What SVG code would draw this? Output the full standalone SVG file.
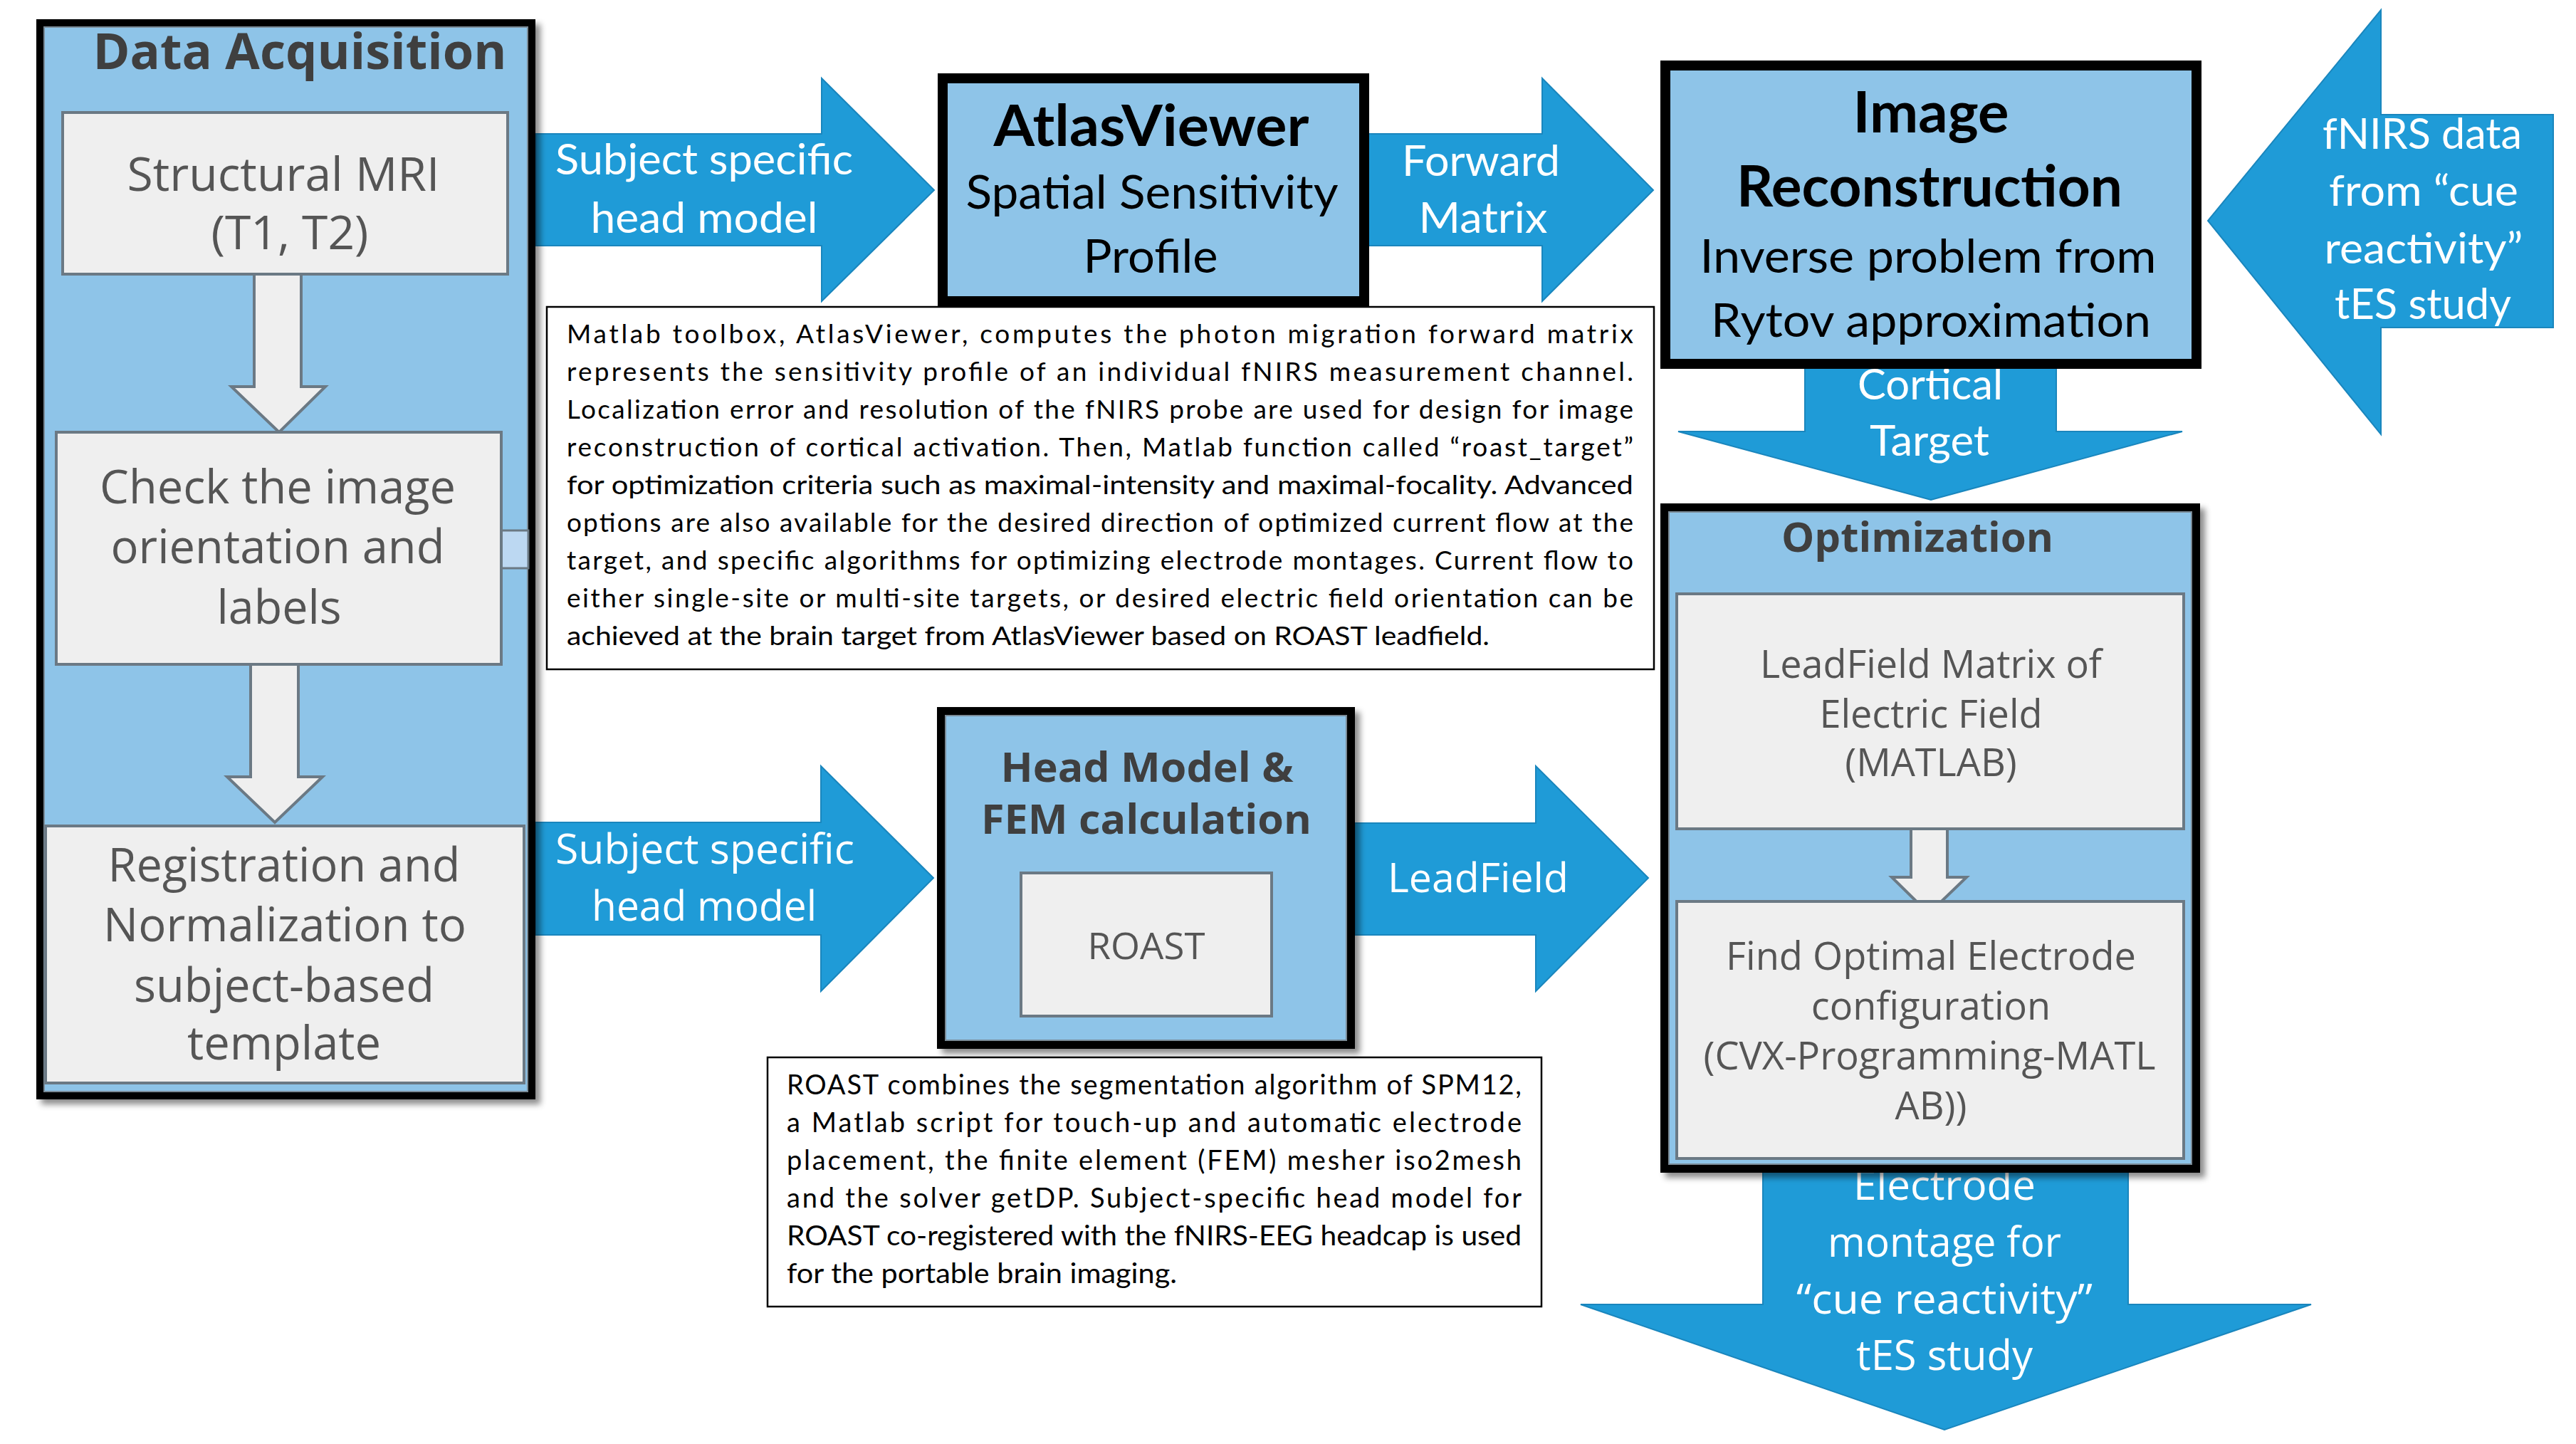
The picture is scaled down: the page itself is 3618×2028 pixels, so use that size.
<svg xmlns="http://www.w3.org/2000/svg" width="3618" height="2028" viewBox="0 0 3618 2028">
<defs>
<filter id="sh" x="-5%" y="-5%" width="115%" height="115%">
<feDropShadow dx="7" dy="7" stdDeviation="4" flood-color="#000" flood-opacity="0.45"/>
</filter>
<style>
.arrow{fill:#1F9BD7;stroke:#1A86BD;stroke-width:2}
.warrow{fill:#EFEFEF;stroke:#6B7984;stroke-width:4}
.frame{fill:#8EC4E8;stroke:#000}
.gbox{fill:#EFEFEF;stroke:#6B7984;stroke-width:4}
.note{fill:#fff;stroke:#000;stroke-width:2.5}
.cal{font-family:Lato,"Liberation Sans",sans-serif}
.os{font-family:"Open Sans","Noto Sans",sans-serif}
.wt{fill:#fff}
.bk{fill:#000}
.ttl{fill:#3F3F3F;font-weight:bold}
.gt{fill:#555}
.c{text-anchor:middle}
</style>
</defs>
<rect width="3618" height="2028" fill="#fff"/>

<g id="connectors">
<polygon class="arrow" points="753,188 1154,188 1154,110 1312,267 1154,423 1154,345 753,345"/>
<polygon class="arrow" points="1916,188 2166,188 2166,110 2322,267 2166,423 2166,345 1916,345"/>
<polygon class="arrow" points="3586,161 3344,161 3344,14 3101,310 3344,610 3344,460 3586,460"/>
<polygon class="arrow" points="2535,505 2888,505 2888,606 3065,606 2712,702 2357,606 2535,606"/>
<polygon class="arrow" points="752,1155 1153,1155 1153,1076 1311,1233 1153,1392 1153,1313 752,1313"/>
<polygon class="arrow" points="1903,1156 2157,1156 2157,1076 2315,1233 2157,1392 2157,1313 1903,1313"/>
<polygon class="arrow" points="2476,1640 2989,1640 2989,1832 3246,1832 2731,2008 2220,1832 2476,1832"/>
<g class="cal wt c" font-size="60">
<text x="989" y="245" textLength="418" lengthAdjust="spacingAndGlyphs">Subject specific</text>
<text x="989" y="327" textLength="319" lengthAdjust="spacingAndGlyphs">head model</text>
<text x="2080" y="247" textLength="222" lengthAdjust="spacingAndGlyphs">Forward</text>
<text x="2083" y="327" textLength="181" lengthAdjust="spacingAndGlyphs">Matrix</text>
<text x="3402" y="209" textLength="280" lengthAdjust="spacingAndGlyphs">fNIRS data</text>
<text x="3404" y="289" textLength="266" lengthAdjust="spacingAndGlyphs">from “cue</text>
<text x="3404" y="370" textLength="279" lengthAdjust="spacingAndGlyphs">reactivity”</text>
<text x="3403" y="448" textLength="248" lengthAdjust="spacingAndGlyphs">tES study</text>
<text x="2711" y="561" textLength="204" lengthAdjust="spacingAndGlyphs">Cortical</text>
<text x="2710" y="640" textLength="168" lengthAdjust="spacingAndGlyphs">Target</text>
</g>
<g class="os wt c" font-size="58">
<text x="990" y="1213" textLength="420" lengthAdjust="spacingAndGlyphs">Subject specific</text>
<text x="989" y="1293" textLength="316" lengthAdjust="spacingAndGlyphs">head model</text>
<text x="2076" y="1253" font-size="56" textLength="254" lengthAdjust="spacingAndGlyphs">LeadField</text>
<text x="2731" y="1685" textLength="256" lengthAdjust="spacingAndGlyphs">Electrode</text>
<text x="2731" y="1765" textLength="328" lengthAdjust="spacingAndGlyphs">montage for</text>
<text x="2731" y="1845" textLength="416" lengthAdjust="spacingAndGlyphs">“cue reactivity”</text>
<text x="2731" y="1924" textLength="248" lengthAdjust="spacingAndGlyphs">tES study</text>
</g>
</g>

<g id="data-acquisition">
<rect class="frame" x="56.5" y="32.5" width="690" height="1506" stroke-width="11" filter="url(#sh)"/>
<rect x="62" y="38" width="679" height="1495" fill="none" stroke="#7A8A96" stroke-width="2"/>
<text class="os ttl c" x="421" y="97" font-size="70" textLength="581" lengthAdjust="spacingAndGlyphs">Data Acquisition</text>
<rect x="704" y="745" width="38" height="53" fill="#BCD8F2" stroke="#6B7984" stroke-width="3"/>
<g id="structural-mri">
<rect class="gbox" x="88" y="158" width="625" height="227"/>
<g class="os gt c" font-size="65">
<text x="398" y="268" textLength="439" lengthAdjust="spacingAndGlyphs">Structural MRI</text>
<text x="407" y="350" textLength="221" lengthAdjust="spacingAndGlyphs">(T1, T2)</text>
</g>
</g>
<polygon class="warrow" points="357,385 423,385 423,543 457,543 392,607 325,543 357,543"/>
<g id="check-orientation">
<rect class="gbox" x="79" y="607" width="625" height="326"/>
<g class="os gt c" font-size="65">
<text x="390" y="707" textLength="500" lengthAdjust="spacingAndGlyphs">Check the image</text>
<text x="390" y="791" textLength="469" lengthAdjust="spacingAndGlyphs">orientation and</text>
<text x="392" y="876" textLength="175" lengthAdjust="spacingAndGlyphs">labels</text>
</g>
</g>
<polygon class="warrow" points="352,933 419,933 419,1091 453,1091 386,1155 319,1091 352,1091"/>
<g id="registration">
<rect class="gbox" x="64" y="1160" width="672" height="361"/>
<g class="os gt c" font-size="65">
<text x="399" y="1238" textLength="495" lengthAdjust="spacingAndGlyphs">Registration and</text>
<text x="400" y="1322" textLength="510" lengthAdjust="spacingAndGlyphs">Normalization to</text>
<text x="399" y="1407" textLength="422" lengthAdjust="spacingAndGlyphs">subject-based</text>
<text x="399" y="1488" textLength="272" lengthAdjust="spacingAndGlyphs">template</text>
</g>
</g>
</g>

<g id="atlasviewer">
<rect class="frame" x="1324" y="110" width="592" height="313" stroke-width="14"/>
<g class="cal bk c">
<text x="1617" y="205" font-size="80" font-weight="bold" textLength="443" lengthAdjust="spacingAndGlyphs">AtlasViewer</text>
<text x="1618" y="293" font-size="66" textLength="523" lengthAdjust="spacingAndGlyphs">Spatial Sensitivity</text>
<text x="1616" y="383" font-size="66" textLength="189" lengthAdjust="spacingAndGlyphs">Profile</text>
</g>
</g>

<g id="atlasviewer-note">
<rect class="note" x="768" y="431" width="1555" height="509"/>
<g class="cal bk" font-size="37">
<text x="796" y="482" textLength="1498" lengthAdjust="spacing">Matlab toolbox, AtlasViewer, computes the photon migration forward matrix</text>
<text x="796" y="535" textLength="1498" lengthAdjust="spacing">represents the sensitivity profile of an individual fNIRS measurement channel.</text>
<text x="796" y="588" textLength="1498" lengthAdjust="spacing">Localization error and resolution of the fNIRS probe are used for design for image</text>
<text x="796" y="641" textLength="1498" lengthAdjust="spacing">reconstruction of cortical activation. Then, Matlab function called “roast_target”</text>
<text x="796" y="694" textLength="1498" lengthAdjust="spacingAndGlyphs">for optimization criteria such as maximal-intensity and maximal-focality. Advanced</text>
<text x="796" y="747" textLength="1498" lengthAdjust="spacing">options are also available for the desired direction of optimized current flow at the</text>
<text x="796" y="800" textLength="1498" lengthAdjust="spacing">target, and specific algorithms for optimizing electrode montages. Current flow to</text>
<text x="796" y="853" textLength="1498" lengthAdjust="spacing">either single-site or multi-site targets, or desired electric field orientation can be</text>
<text x="796" y="906" textLength="1296" lengthAdjust="spacingAndGlyphs">achieved at the brain target from  AtlasViewer based on ROAST leadfield.</text>
</g>
</g>

<g id="image-reconstruction">
<rect class="frame" x="2339" y="92" width="746" height="419" stroke-width="14"/>
<g class="cal bk c">
<text x="2712" y="186" font-size="80" font-weight="bold" textLength="219" lengthAdjust="spacingAndGlyphs">Image</text>
<text x="2710" y="290" font-size="80" font-weight="bold" textLength="542" lengthAdjust="spacingAndGlyphs">Reconstruction</text>
<text x="2708" y="383" font-size="66" textLength="641" lengthAdjust="spacingAndGlyphs">Inverse problem from</text>
<text x="2712" y="473" font-size="66" textLength="618" lengthAdjust="spacingAndGlyphs">Rytov approximation</text>
</g>
</g>

<g id="head-model">
<rect class="frame" x="1322" y="999" width="575" height="468" stroke-width="12" filter="url(#sh)"/>
<rect x="1328" y="1005" width="563" height="456" fill="none" stroke="#7A8A96" stroke-width="2"/>
<g class="os ttl c" font-size="58">
<text x="1611" y="1098" textLength="411" lengthAdjust="spacingAndGlyphs">Head Model &amp;</text>
<text x="1610" y="1171" textLength="464" lengthAdjust="spacingAndGlyphs">FEM calculation</text>
</g>
<g id="roast">
<rect class="gbox" x="1434" y="1226" width="352" height="201"/>
<text class="os gt c" x="1610" y="1347" font-size="52" textLength="165" lengthAdjust="spacingAndGlyphs">ROAST</text>
</g>
</g>

<g id="roast-note">
<rect class="note" x="1078" y="1485" width="1087" height="350"/>
<g class="cal bk" font-size="38">
<text x="1105" y="1537" textLength="1032" lengthAdjust="spacing">ROAST combines the segmentation algorithm of SPM12,</text>
<text x="1105" y="1590" textLength="1032" lengthAdjust="spacing">a Matlab script for touch-up and automatic electrode</text>
<text x="1105" y="1643" textLength="1032" lengthAdjust="spacing">placement, the finite element (FEM) mesher iso2mesh</text>
<text x="1105" y="1696" textLength="1032" lengthAdjust="spacing">and the solver getDP. Subject-specific head model for</text>
<text x="1105" y="1749" textLength="1032" lengthAdjust="spacingAndGlyphs">ROAST co-registered with the fNIRS-EEG headcap is used</text>
<text x="1105" y="1802" textLength="548" lengthAdjust="spacingAndGlyphs">for the portable brain imaging.</text>
</g>
</g>

<g id="optimization">
<rect class="frame" x="2338" y="713" width="746" height="928" stroke-width="12" filter="url(#sh)"/>
<rect x="2344" y="719" width="734" height="916" fill="none" stroke="#7A8A96" stroke-width="2"/>
<text class="os ttl c" x="2693" y="775" font-size="58" textLength="382" lengthAdjust="spacingAndGlyphs">Optimization</text>
<g id="leadfield-matrix">
<rect class="gbox" x="2355" y="834" width="712" height="330"/>
<g class="os gt c" font-size="54">
<text x="2712" y="952" textLength="480" lengthAdjust="spacingAndGlyphs">LeadField Matrix of</text>
<text x="2712" y="1022">Electric Field</text>
<text x="2712" y="1090">(MATLAB)</text>
</g>
</g>
<polygon class="warrow" points="2684,1164 2735,1164 2735,1232 2762,1232 2709,1283 2657,1232 2684,1232"/>
<g id="find-optimal">
<rect class="gbox" x="2355" y="1266" width="712" height="361"/>
<g class="os gt c" font-size="54">
<text x="2712" y="1362" textLength="576" lengthAdjust="spacingAndGlyphs">Find Optimal Electrode</text>
<text x="2712" y="1432">configuration</text>
<text x="2710" y="1502" textLength="635" lengthAdjust="spacingAndGlyphs">(CVX-Programming-MATL</text>
<text x="2712" y="1572">AB))</text>
</g>
</g>
</g>
</svg>
